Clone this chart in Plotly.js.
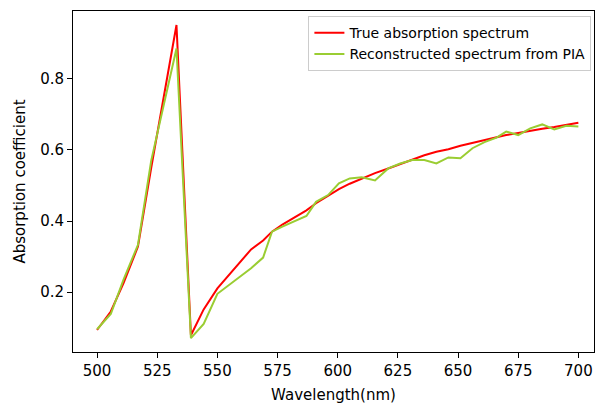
<!DOCTYPE html>
<html>
<head>
<meta charset="utf-8">
<script src="https://cdn.plot.ly/plotly-3.0.1.min.js"></script>
<style>html,body{margin:0;padding:0;background:#fff}#chart{width:595px;height:404px}</style>
</head>
<body>
<div id="chart"></div>
<script>
const wavelength = [500, 505.7, 511, 517, 522.5, 533, 539, 544.3, 550, 564, 569, 572.7, 577, 582, 587, 591, 596, 600.5, 605, 610, 615.5, 621, 626, 631, 636, 641, 646, 651, 656, 661, 666, 670, 675, 680, 685, 690, 695, 700];
const trueSpectrum = [0.093, 0.145, 0.225, 0.328, 0.55, 0.952, 0.078, 0.151, 0.21, 0.32, 0.345, 0.37, 0.39, 0.41, 0.43, 0.45, 0.47, 0.49, 0.505, 0.52, 0.535, 0.548, 0.56, 0.574, 0.585, 0.595, 0.602, 0.612, 0.62, 0.628, 0.636, 0.642, 0.648, 0.655, 0.66, 0.665, 0.671, 0.677];
const reconstructed = [0.095, 0.138, 0.235, 0.333, 0.57, 0.886, 0.07, 0.11, 0.195, 0.267, 0.297, 0.37, 0.384, 0.399, 0.414, 0.454, 0.473, 0.506, 0.52, 0.523, 0.514, 0.548, 0.562, 0.572, 0.572, 0.562, 0.579, 0.577, 0.605, 0.622, 0.635, 0.652, 0.642, 0.661, 0.672, 0.658, 0.668, 0.666];
const names = ["True absorption spectrum", "Reconstructed spectrum from PIA"];

const axisFont = {family: "DejaVu Sans", size: 15, color: "#000"};
const legendFont = {family: "DejaVu Sans", size: 14, color: "#000"};
const traces = [
  {x: wavelength, y: trueSpectrum, name: names[0], mode: "lines", line: {color: "#ff0000", width: 2}},
  {x: wavelength, y: reconstructed, name: names[1], mode: "lines", line: {color: "#9acd32", width: 2}}
];
const axisCommon = {showline: true, mirror: true, linecolor: "#000", linewidth: 1, ticks: "outside", ticklen: 5, tickwidth: 1, tickcolor: "#000", showgrid: false, zeroline: false, tickfont: axisFont};
const layout = {
  width: 595, height: 404,
  margin: {l: 73, r: 1, t: 11, b: 52},
  paper_bgcolor: "#fff", plot_bgcolor: "#fff",
  font: axisFont,
  showlegend: true,
  legend: {x: 0.995, xanchor: "right", y: 0.985, yanchor: "top", bordercolor: "#cccccc", borderwidth: 1, bgcolor: "rgba(255,255,255,0.8)", font: legendFont, tracegroupgap: 0},
  xaxis: Object.assign({}, axisCommon, {range: [490, 706.5], tickvals: [500, 525, 550, 575, 600, 625, 650, 675, 700], title: {text: "Wavelength(nm)", font: axisFont, standoff: 10}}),
  yaxis: Object.assign({}, axisCommon, {range: [0.031, 0.9915], tickvals: [0.2, 0.4, 0.6, 0.8], ticktext: ["0.2", "0.4", "0.6", "0.8"], title: {text: "Absorption coefficient", font: axisFont, standoff: 10}})
};
Plotly.newPlot("chart", traces, layout, {displayModeBar: false, staticPlot: true});
</script>
</body>
</html>
